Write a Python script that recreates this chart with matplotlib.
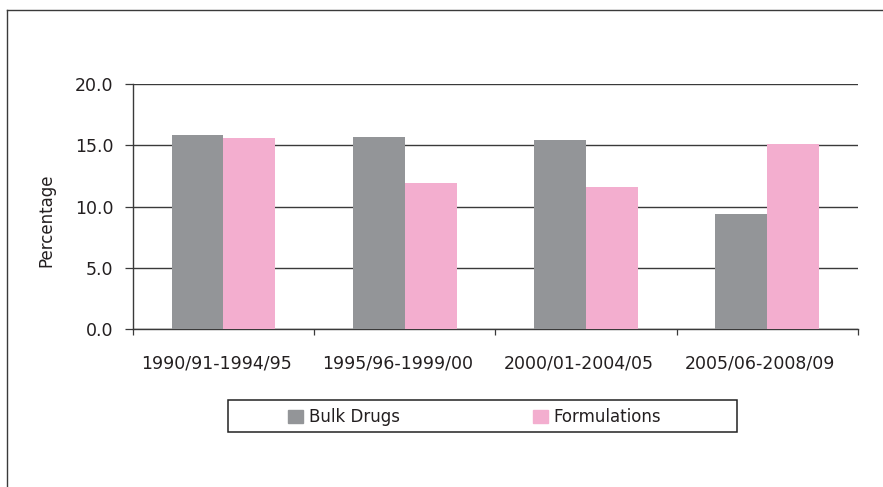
import numpy as np
import matplotlib
matplotlib.use("Agg")
import matplotlib.pyplot as plt
from matplotlib.patches import Rectangle, Patch
from matplotlib.lines import Line2D
from matplotlib.transforms import ScaledTranslation

periods = ["1990/91-1994/95", "1995/96-1999/00", "2000/01-2004/05", "2005/06-2008/09"]
bulk_drugs = [15.8, 15.7, 15.4, 9.4]
formulations = [15.6, 11.9, 11.6, 15.1]
y_ticks = [0.0, 5.0, 10.0, 15.0, 20.0]

gray = "#939598"
pink = "#f3aecf"
line_col = "#3a3a3a"
text_col = "#231f20"

plt.rcParams["font.family"] = ["DejaVu Sans"]
plt.rcParams["font.size"] = 12

fig = plt.figure(figsize=(8.83, 4.87), dpi=100)
W, H = 883, 487

ax = fig.add_axes([132.7 / W, 1 - 329 / H, (858 - 132.7) / W, (329 - 84) / H])

x = np.arange(len(periods))
bw = 0.286
ax.bar(x - bw / 2, bulk_drugs, bw, color=gray, zorder=3)
ax.bar(x + bw / 2, formulations, bw, color=pink, zorder=3)

ax.set_xlim(-0.5, len(periods) - 0.5)
ax.set_ylim(0, 20)
ax.set_yticks(y_ticks)
ax.set_yticklabels([f"{v:.1f}" for v in y_ticks], color=text_col, fontsize=12.5)
ax.yaxis.grid(True, color=line_col, lw=1.0, zorder=1)
ax.tick_params(axis="y", direction="out", length=5.8, width=0.9, color=line_col, pad=8)

# category boundaries carry the tick marks, names sit in between
ax.set_xticks(np.arange(-0.5, len(periods)), minor=False)
ax.set_xticklabels([])
ax.set_xticks(x, minor=True)
ax.set_xticklabels(periods, minor=True, color=text_col, fontsize=12.5)
ax.tick_params(axis="x", which="major", direction="out", length=4.5, width=0.9, color=line_col)
ax.tick_params(axis="x", which="minor", length=0, pad=18)
shift = ScaledTranslation(-7 / 100, 0, fig.dpi_scale_trans)
for lbl in ax.get_xticklabels(minor=True):
    lbl.set_transform(lbl.get_transform() + shift)

for s in ["top", "right"]:
    ax.spines[s].set_visible(False)
for s in ["left", "bottom"]:
    ax.spines[s].set_color(line_col)
    ax.spines[s].set_linewidth(1.0)

fig.text(46 / W, 1 - 220 / H, "Percentage", rotation=90, ha="center", va="center",
         color=text_col)

# legend with its own frame
fig.patches.append(Rectangle((228 / W, 1 - 432 / H), (737 - 228) / W, 32 / H,
                             transform=fig.transFigure, fill=False,
                             edgecolor="#222222", lw=1.1))
handles = [Patch(color=gray, label="Bulk Drugs"), Patch(color=pink, label="Formulations")]
leg = fig.legend(handles=handles, loc="center", bbox_to_anchor=(474.5 / W, 1 - 417 / H),
                 ncol=2, frameon=False, handlelength=0.9, handleheight=0.84,
                 handletextpad=0.36, columnspacing=8.0, fontsize=12)
for t in leg.get_texts():
    t.set_color(text_col)

# outer frame: top and left edges
fig.add_artist(Line2D([7 / W, 1], [1 - 10 / H, 1 - 10 / H], transform=fig.transFigure,
                      color=line_col, lw=1.0))
fig.add_artist(Line2D([7 / W, 7 / W], [0, 1 - 10 / H], transform=fig.transFigure,
                      color=line_col, lw=1.0))

fig.savefig("out.png", dpi=100)
